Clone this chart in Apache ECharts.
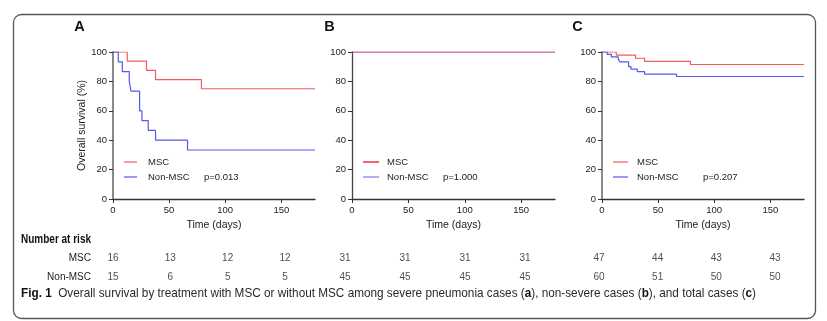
<!DOCTYPE html>
<html>
<head>
<meta charset="utf-8">
<script src="https://cdn.jsdelivr.net/npm/echarts@6/dist/echarts.min.js"></script>
<style>
  html, body { margin: 0; padding: 0; background: #fff; }
  #chart { width: 827px; height: 321px; }
</style>
</head>
<body>
<div id="chart"></div>
<script>
// Kaplan–Meier curves: [day, overall survival %]
const severeMsc = [[0, 100], [12.7, 93.75], [29.9, 87.5], [37.9, 81.25], [78.8, 75], [180, 75]];
const severeNonMsc = [[0, 100], [4.7, 93.33], [8.3, 86.67], [14.5, 80], [16, 73.33], [23.7, 60], [25.8, 53.33], [31.4, 46.67], [37.9, 40], [66.4, 33.33], [180, 33.33]];
const nonSevereMsc = [[0, 100], [180, 100]];
const nonSevereNonMsc = [[0, 100], [180, 100]];
const totalMsc = [[0, 100], [12.7, 97.87], [29.9, 95.74], [37.9, 93.62], [78.8, 91.49], [180, 91.49]];
const totalNonMsc = [[0, 100], [4.7, 98.33], [8.3, 96.67], [14.5, 95], [16, 93.33], [23.7, 90], [25.8, 88.33], [31.4, 86.67], [37.9, 85], [66.4, 83.33], [180, 83.33]];

// Number at risk at the x-axis tick days
const riskDays = [0, 50, 100, 150];
const riskRows = ['MSC', 'Non-MSC'];
const riskSevereMsc = [16, 13, 12, 12];
const riskSevereNonMsc = [15, 6, 5, 5];
const riskNonSevereMsc = [31, 31, 31, 31];
const riskNonSevereNonMsc = [45, 45, 45, 45];
const riskTotalMsc = [47, 44, 43, 43];
const riskTotalNonMsc = [60, 51, 50, 50];

const pValues = ['p=0.013', 'p=1.000', 'p=0.207'];
const panelLetters = ['A', 'B', 'C'];
const xTicks = [0, 50, 100, 150];

// caption pieces: [text, bold?]
const captionParts = [
  ['Fig. 1', true],
  ['  Overall survival by treatment with MSC or without MSC among severe pneumonia cases (', false],
  ['a', true], ['), non-severe cases (', false],
  ['b', true], ['), and total cases (', false],
  ['c', true], [')', false]
];

const RED = '#f25a5e';
const BLUE = '#5558ee';
const FONT = '"Liberation Sans", Arial, sans-serif';

// canvas text measuring, used to squeeze the condensed caption lines
const measureCtx = document.createElement('canvas').getContext('2d');
function textWidth(str, size, bold) {
  measureCtx.font = (bold ? 'bold ' : '') + size + 'px ' + FONT;
  return measureCtx.measureText(str).width;
}

const chart = echarts.init(document.getElementById('chart'), null, { renderer: 'canvas' });

// layout of the three survival plots and the at-risk rows under them
const plots = [
  { left: 113, width: 202, yAxisColor: '#8a8a8a', yAxisWidth: 2, riskLeft: 113, riskWidth: 172,
    legendLeft: 119, iconW: 13, textPad: 6, pLeft: 204, letterX: 79.5 },
  { left: 352, width: 203, yAxisColor: '#444', yAxisWidth: 1.3, riskLeft: 345, riskWidth: 180,
    legendLeft: 358, iconW: 16, textPad: 3, pLeft: 443, letterX: 329.5 },
  { left: 602, width: 202, yAxisColor: '#8a8a8a', yAxisWidth: 2, riskLeft: 599, riskWidth: 176,
    legendLeft: 608, iconW: 15, textPad: 4, pLeft: 703, letterX: 577.5 }
];
const curves = [
  [severeMsc, severeNonMsc],
  [nonSevereMsc, nonSevereNonMsc],
  [totalMsc, totalNonMsc]
];
const risks = [
  [riskSevereMsc, riskSevereNonMsc],
  [riskNonSevereMsc, riskNonSevereNonMsc],
  [riskTotalMsc, riskTotalNonMsc]
];

const grid = [], xAxis = [], yAxis = [], series = [], legend = [], graphic = [];

plots.forEach((p, i) => {
  // survival plot
  grid.push({ left: p.left, top: 52, width: p.width, height: 147 });
  xAxis.push({
    gridIndex: i, type: 'value', min: 0, max: 180,
    name: 'Time (days)', nameLocation: 'middle', nameGap: 21,
    nameTextStyle: { fontFamily: FONT, fontSize: 10.5, color: '#222' },
    axisLine: { lineStyle: { color: '#333', width: 1.3 } },
    axisTick: { length: 4, lineStyle: { color: '#333' }, customValues: xTicks },
    axisLabel: { fontFamily: FONT, fontSize: 9.5, color: '#222', margin: 6, customValues: xTicks },
    splitLine: { show: false }
  });
  yAxis.push({
    gridIndex: i, type: 'value', min: 0, max: 100, interval: 20,
    name: i === 0 ? 'Overall survival (%)' : '', nameLocation: 'middle', nameGap: 22,
    nameTextStyle: { fontFamily: FONT, fontSize: 10.5, color: '#222' },
    axisLine: { show: true, lineStyle: { color: p.yAxisColor, width: p.yAxisWidth } },
    axisTick: { show: true, length: 4, lineStyle: { color: '#333' } },
    axisLabel: { fontFamily: FONT, fontSize: 9.5, color: '#222', margin: 6 },
    splitLine: { show: false }
  });
  const mscColor = i === 1 ? '#e8243a' : RED;
  const nonColor = i === 1 ? 'rgba(96, 96, 240, 0.55)' : BLUE;
  series.push({
    name: 'MSC', type: 'line', xAxisIndex: i, yAxisIndex: i, step: 'end',
    data: curves[i][0], showSymbol: false, silent: true, z: 3,
    lineStyle: { color: mscColor, width: 1.2 }, itemStyle: { color: mscColor }
  });
  series.push({
    name: 'Non-MSC', type: 'line', xAxisIndex: i, yAxisIndex: i, step: 'end',
    data: curves[i][1], showSymbol: false, silent: true, z: 4,
    lineStyle: { color: nonColor, width: 1.2 }, itemStyle: { color: nonColor }
  });
  const icon = 'path://M0,5.4 L' + p.iconW + ',5.4 L' + p.iconW + ',6.6 L0,6.6 Z';
  legend.push({
    orient: 'vertical', left: p.legendLeft, top: 152, itemGap: 5,
    itemWidth: p.iconW, itemHeight: 12, selectedMode: false,
    textStyle: { fontFamily: FONT, fontSize: 9.5, color: '#222', padding: [0, 0, 0, p.textPad] },
    data: [
      { name: 'MSC', icon, itemStyle: { color: i === 1 ? '#e8000e' : RED } },
      { name: 'Non-MSC', icon, itemStyle: { color: i === 1 ? '#7a7af2' : BLUE } }
    ]
  });
  graphic.push({
    type: 'text', x: p.pLeft, y: 177,
    style: { text: pValues[i], fontFamily: FONT, fontSize: 9.5, fill: '#222',
      textAlign: 'left', textVerticalAlign: 'middle' }
  });
  graphic.push({
    type: 'text', x: p.letterX, y: 27,
    style: { text: panelLetters[i], fontFamily: FONT, fontSize: 14.5, fontWeight: 'bold', fill: '#111',
      textAlign: 'center', textVerticalAlign: 'middle' }
  });
});

// number-at-risk rows, placed on their own grids below each plot
plots.forEach((p, i) => {
  const gi = 3 + i;
  grid.push({ left: p.riskLeft, top: 249, width: p.riskWidth, height: 38 });
  xAxis.push({ gridIndex: gi, type: 'value', min: 0, max: 150, show: false });
  yAxis.push({
    gridIndex: gi, type: 'category', data: riskRows, inverse: true, show: i === 0,
    axisLine: { show: false }, axisTick: { show: false }, splitLine: { show: false },
    axisLabel: { fontFamily: FONT, fontSize: 10, color: '#222', margin: 22 }
  });
  const pts = [];
  riskRows.forEach((r, ri) => {
    riskDays.forEach((d, di) => pts.push([d, ri, risks[i][ri][di]]));
  });
  series.push({
    type: 'scatter', xAxisIndex: gi, yAxisIndex: gi, symbolSize: 0, silent: true,
    data: pts, encode: { x: 0, y: 1 },
    label: {
      show: true, position: 'inside', formatter: q => String(q.value[2]),
      fontFamily: FONT, fontSize: 10, color: '#222'
    }
  });
});

// condensed caption: natural width squeezed horizontally into the caption line
const CAP_SIZE = 13;
const capText = captionParts.map(([t, b]) => b ? '{b|' + t + '}' : t).join('');
const capNatural = captionParts.reduce((s, [t, b]) => s + textWidth(t, CAP_SIZE, b), 0);
const capScale = 735 / capNatural;

const nrText = 'Number at risk';
const nrScale = 70 / textWidth(nrText, 12, true);

graphic.push(
  { type: 'rect', left: 11, top: 12, shape: { width: 802, height: 304, r: 8 },
    style: { fill: 'none', stroke: '#555', lineWidth: 1.3 }, z: -1 },
  { type: 'text', x: 21, y: 240, scaleX: nrScale,
    style: { text: nrText, fontFamily: FONT, fontSize: 12, fontWeight: 'bold', fill: '#111',
      textAlign: 'left', textVerticalAlign: 'middle' } },
  { type: 'text', x: 21, y: 293, scaleX: capScale,
    style: {
      text: capText, fontFamily: FONT, fontSize: CAP_SIZE, fill: '#2a2a2a',
      textAlign: 'left', textVerticalAlign: 'middle',
      rich: { b: { fontFamily: FONT, fontSize: CAP_SIZE, fontWeight: 'bold', fill: '#111' } }
    } }
);

chart.setOption({
  animation: false,
  backgroundColor: '#fff',
  grid, xAxis, yAxis, series, legend, graphic
});
</script>
</body>
</html>
